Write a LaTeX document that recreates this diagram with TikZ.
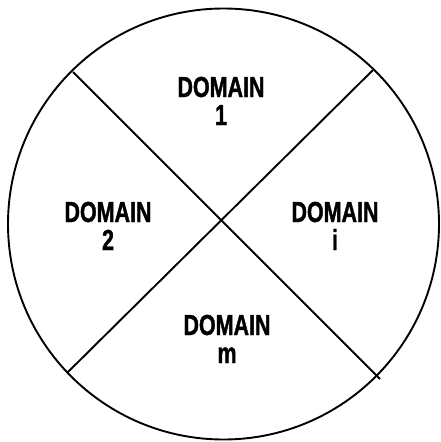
\documentclass[tikz,border=0pt]{standalone}
\usepackage{fontspec}
\newfontfamily\dfont[FakeStretch=0.74,FakeBold=1.2]{Liberation Sans Bold}
\begin{document}
\begin{tikzpicture}[x=1pt,y=-1pt,
  rim/.style={line width=1.9pt},
  divider/.style={line width=1.9pt},
  lbl/.style={align=center,inner sep=0pt,anchor=base,font=\dfont\fontsize{29}{28}\selectfont}]
\useasboundingbox[fill=white] (0,0) rectangle (441,442);
\coordinate (c) at (223.5,224);
\draw[rim] (c) circle[radius=215.5pt];
\coordinate (ul) at (73,72);
\coordinate (lr) at (380,379);
\coordinate (ur) at (373,70);
\coordinate (ll) at (67,373);
\draw[divider] (ul) -- (lr);
\draw[divider] (ur) -- (ll);
\node[lbl] (d1) at (221,125) {DOMAIN\\1};
\node[lbl] (d2) at (108,250) {DOMAIN\\2};
\node[lbl] (di) at (335,250) {DOMAIN\\i};
\node[lbl] (dm) at (227,363) {DOMAIN\\m};
\end{tikzpicture}
\end{document}
